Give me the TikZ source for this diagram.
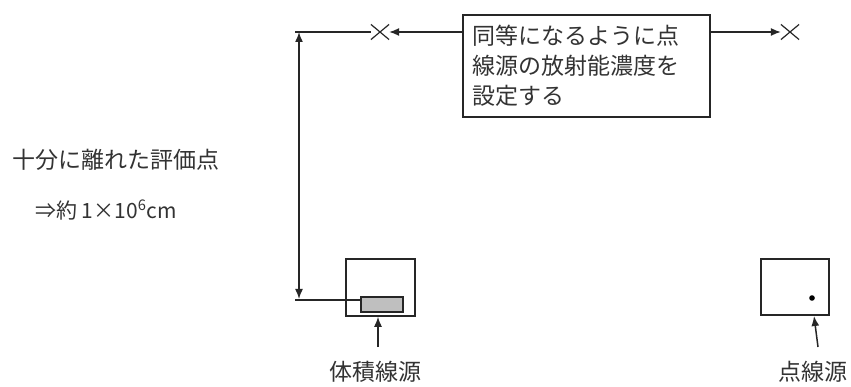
\documentclass[tikz,border=0pt]{standalone}
\usepackage{fontspec}
\setmainfont{Noto Sans CJK JP}
\usetikzlibrary{arrows.meta,shapes.misc}
\begin{document}
\begin{tikzpicture}[x=1pt,y=-1pt,line width=1.5pt, draw=black!85,
  every node/.style={font=\fontsize{23pt}{30pt}\selectfont, text=black!80},
  arr/.style={-{Latex[length=10pt,width=8pt]}},
  darr/.style={{Latex[length=10pt,width=8pt]}-{Latex[length=10pt,width=8pt]}},
  cross/.style={draw, cross out, minimum width=17pt, minimum height=14pt, inner sep=0pt, line width=1.2pt},
  frame/.style={draw, inner sep=0pt}]
\useasboundingbox (0,0) rectangle (851,387);
% message box
\node[frame, minimum width=247pt, minimum height=102pt, text width=228pt, align=left] (msg) at (586.5,66)
  {同等になるように点\\線源の放射能濃度を\\設定する};
\node[cross] (xl) at (380,32) {};
\node[cross] (xr) at (790,32) {};
\draw[arr] (msg.west |- xl) -- (xl.east);
\draw[arr] (msg.east |- xr) -- (xr.west);
% top-left line and vertical dimension arrow
\coordinate (tl) at (295,32);
\draw (xl.west) -- (tl);
\coordinate (vt) at (299,32);
\coordinate (vb) at (299,299);
\draw[darr] (vt) -- (vb);
% left text
\node[anchor=west] (t1) at (8,160) {十分に離れた評価点};
\node[anchor=west, font=\fontsize{21pt}{30pt}\selectfont] (t2) at (31,210) {⇒約 1×10\textsuperscript{6}cm};
% volume source
\node[frame, minimum width=69pt, minimum height=57pt] (vbox) at (380.5,287.5) {};
\node[frame, fill=black!25, minimum width=42pt, minimum height=15pt] (vsrc) at (382,304.5) {};
\coordinate (bl) at (295,300);
\draw (bl) -- (vsrc.west |- bl);
\coordinate (va) at (378,347);
\draw[arr] (va) -- (va |- vbox.south);
\node (vlab) at (375,372) {体積線源};
% point source
\node[frame, minimum width=68pt, minimum height=56pt] (pbox) at (795,287) {};
\fill (812,298) circle (2.8pt);
\coordinate (pa) at (818,347);
\coordinate (pb) at (814,316);
\draw[arr] (pa) -- (pb);
\node (plab) at (813,372) {点線源};
\end{tikzpicture}
\end{document}
